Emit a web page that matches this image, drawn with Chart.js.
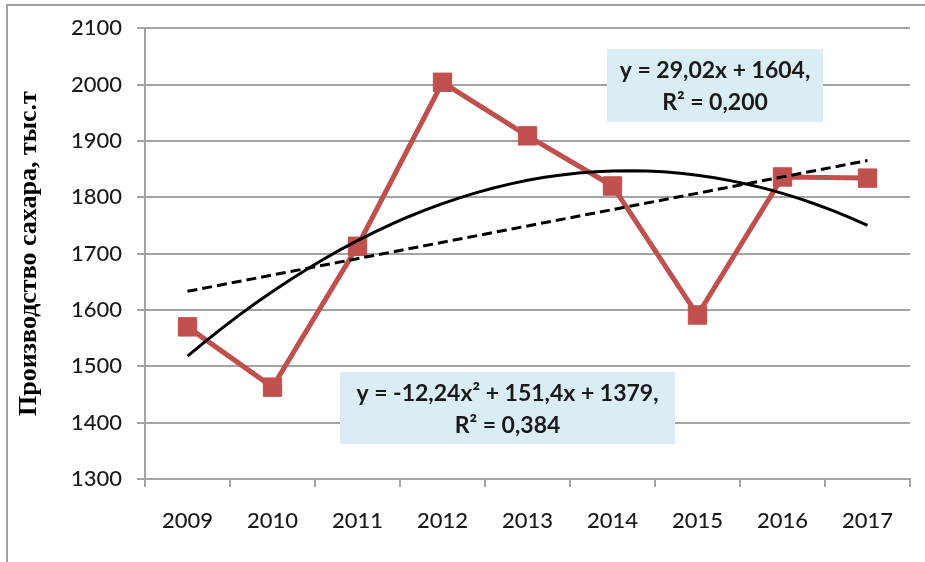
<!DOCTYPE html>
<html>
<head>
<meta charset="utf-8">
<script src="https://cdn.jsdelivr.net/npm/chart.js@4"></script>
<style>
  body { margin: 0; background: #fff; }
  #wrap { width: 925px; height: 562px; }
</style>
</head>
<body>
<div id="wrap"><canvas id="sugarChart" width="925" height="562"></canvas></div>
<script>
// data
const years = ['2009', '2010', '2011', '2012', '2013', '2014', '2015', '2016', '2017'];
const production = [1570, 1463, 1713, 2004, 1909, 1820, 1591, 1836, 1834];
const yTicks = [1300, 1400, 1500, 1600, 1700, 1800, 1900, 2000, 2100];

// trendline equations as printed on the chart
const linearCoef = [29.02, 1604];
const quadCoef = [-12.24, 151.4, 1379];
const linearLabel = ['y = 29,02x + 1604,', 'R² = 0,200'];
const quadLabel = ['y = -12,24x² + 151,4x + 1379,', 'R² = 0,384'];

const gridColor = '#a3a3a3';
const textColor = '#1a1a1a';

const mainPoints = production.map((v, i) => ({ x: i + 1, y: v }));
const linearPoints = [1, years.length].map(x => ({ x, y: linearCoef[0] * x + linearCoef[1] }));
const quadPoints = [];
for (let x = 1; x <= years.length + 0.001; x += 0.2) {
  quadPoints.push({ x, y: quadCoef[0] * x * x + quadCoef[1] * x + quadCoef[2] });
}

// light blue label boxes + outer frame
const extras = {
  id: 'extras',
  beforeDraw(chart) {
    const ctx = chart.ctx;
    ctx.save();
    ctx.strokeStyle = '#a0a0a0';
    ctx.lineWidth = 2;
    ctx.beginPath();
    ctx.moveTo(7, 562);
    ctx.lineTo(7, 5);
    ctx.lineTo(925, 5);
    ctx.stroke();
    ctx.restore();
  },
  beforeDatasetsDraw(chart) {
    const ctx = chart.ctx;
    const boxes = [
      { x: 607, y: 49, w: 216, h: 73, lines: linearLabel },
      { x: 340, y: 372, w: 335, h: 72, lines: quadLabel }
    ];
    ctx.save();
    boxes.forEach(b => {
      ctx.fillStyle = '#dbedf4';
      ctx.fillRect(b.x, b.y, b.w, b.h);
      ctx.fillStyle = textColor;
      ctx.font = 'bold 23px Lato';
      ctx.textAlign = 'center';
      ctx.textBaseline = 'middle';
      ctx.fillText(b.lines[0], b.x + b.w / 2, b.y + 22);
      ctx.fillText(b.lines[1], b.x + b.w / 2, b.y + 54);
    });
    ctx.restore();
  }
};

new Chart(document.getElementById('sugarChart'), {
  type: 'line',
  data: {
    labels: years,
    datasets: [
      {
        data: quadPoints,
        xAxisID: 'xl',
        borderColor: '#000',
        borderWidth: 3,
        pointRadius: 0,
        tension: 0,
        order: 1
      },
      {
        data: linearPoints,
        xAxisID: 'xl',
        borderColor: '#000',
        borderWidth: 3,
        borderDash: [10, 5],
        pointRadius: 0,
        order: 2
      },
      {
        data: mainPoints,
        xAxisID: 'xl',
        borderColor: '#c0504d',
        borderWidth: 5,
        pointStyle: 'rect',
        pointRadius: 13,
        pointBackgroundColor: '#c0504d',
        pointBorderColor: '#c0504d',
        pointBorderWidth: 1,
        tension: 0,
        order: 3
      }
    ]
  },
  options: {
    responsive: false,
    animation: false,
    layout: { padding: { top: 23, right: 15, left: 0, bottom: 0 } },
    plugins: { legend: { display: false }, tooltip: { enabled: false } },
    scales: {
      x: {
        type: 'category',
        labels: years,
        offset: true,
        grid: { offset: true, drawOnChartArea: false, tickLength: 8, color: gridColor, lineWidth: 2 },
        border: { color: gridColor, width: 2 },
        ticks: { color: textColor, font: { family: 'Lato', size: 22, weight: '500' }, padding: 21, maxRotation: 0 },
        afterFit: s => { s.height = 83; }
      },
      xl: {
        type: 'linear',
        display: false,
        min: 0.5,
        max: years.length + 0.5
      },
      y: {
        min: yTicks[0],
        max: yTicks[yTicks.length - 1],
        afterBuildTicks: s => { s.ticks = yTicks.map(v => ({ value: v })); },
        grid: { color: gridColor, lineWidth: 2, tickLength: 8 },
        border: { color: gridColor, width: 2 },
        ticks: {
          color: textColor,
          font: { family: 'Lato', size: 22, weight: '500' },
          padding: 15,
          callback: v => String(v)
        },
        title: {
          display: true,
          text: 'Производство сахара, тыс.т',
          color: '#000',
          font: { family: 'Liberation Serif', size: 26, weight: 'bold' },
          padding: { top: 14, bottom: 0 }
        },
        afterFit: s => { s.width = 145; }
      }
    }
  },
  plugins: [extras]
});
</script>
</body>
</html>
